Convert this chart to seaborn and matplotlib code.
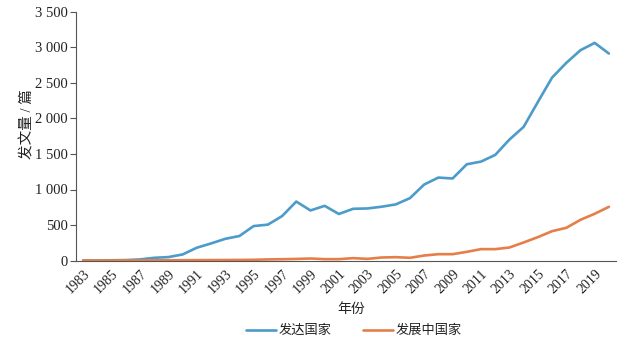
import numpy as np
import pandas as pd
import matplotlib
matplotlib.use("Agg")
import matplotlib.pyplot as plt
from matplotlib.ticker import FuncFormatter, MultipleLocator
from matplotlib.lines import Line2D
import seaborn as sns

years = list(range(1983, 2021))
developed = [0, 2, 3, 6, 15, 38, 48, 85, 180, 240, 305, 345, 485, 505, 625, 830,
             705, 770, 655, 728, 733, 757, 790, 878, 1070, 1168, 1155, 1355, 1393,
             1487, 1703, 1882, 2232, 2576, 2783, 2962, 3065, 2915]
developing = [0, 0, 0, 1, 1, 2, 3, 4, 5, 6, 7, 8, 10, 15, 18, 22,
              28, 19, 19, 33, 23, 42, 47, 38, 70, 89, 89, 122, 160,
              160, 183, 254, 329, 413, 460, 573, 658, 756]
series_names = ["发达国家", "发展中国家"]
y_ticks = [0, 500, 1000, 1500, 2000, 2500, 3000, 3500]

df = pd.DataFrame({
    "年份": years * 2,
    "发文量": developed + developing,
    "组别": [series_names[0]] * len(years) + [series_names[1]] * len(years),
})

sns.set_theme(style="white")
plt.rcParams["font.family"] = ["Liberation Serif", "Noto Sans CJK SC"]
plt.rcParams["axes.unicode_minus"] = False

fig = plt.figure(figsize=(6.22, 3.42), dpi=100)
ax = fig.add_axes([76 / 622, 1 - 260.5 / 342, 540 / 622, 248.5 / 342])

palette = {series_names[0]: "#4b9bcb", series_names[1]: "#e57e49"}
sns.lineplot(data=df, x="年份", y="发文量", hue="组别", palette=palette,
             linewidth=1.9, ax=ax, legend=False)

ax.set_xlim(1982.5, 2020.5)
ax.set_ylim(0, 3500)
ax.set_yticks(y_ticks)
ax.yaxis.set_major_formatter(FuncFormatter(lambda v, p: f"{int(v):,}".replace(",", " ")))

# year labels sit on category centres, tick marks on the boundaries between years
ax.set_xticks(list(range(1983, 2021, 2)))
ax.xaxis.set_minor_locator(MultipleLocator(1, offset=0.5))
ax.tick_params(axis="x", which="major", length=0, pad=5, labelsize=10, labelcolor="#222222")
ax.tick_params(axis="x", which="minor", length=4, width=0.8, color="#555555", direction="out")
ax.tick_params(axis="y", length=4, width=0.8, color="#555555", direction="out",
               labelsize=10.5, labelcolor="#222222", left=True, pad=2)
for lab in ax.get_xticklabels():
    lab.set_rotation(45)
    lab.set_ha("right")
    lab.set_rotation_mode("anchor")

for side in ["top", "right"]:
    ax.spines[side].set_visible(False)
for side in ["left", "bottom"]:
    ax.spines[side].set_color("#555555")
    ax.spines[side].set_linewidth(0.8)

ax.set_xlabel("年份", fontsize=10, color="#222222")
ax.xaxis.set_label_coords(0.509, -0.172)
ax.set_ylabel("发文量 / 篇", fontsize=10.5, color="#222222")
ax.yaxis.set_label_coords(-0.076, 0.55)

handles = [Line2D([], [], color=palette[n], linewidth=1.9) for n in series_names]
fig.legend(handles, series_names, loc="center", bbox_to_anchor=(354 / 622, 1 - 331 / 342),
           ncol=2, frameon=False, fontsize=9.5, handlelength=2.3, handletextpad=0.2,
           columnspacing=2.35, labelcolor="#222222")

fig.savefig("out.png", dpi=100, facecolor="white")
